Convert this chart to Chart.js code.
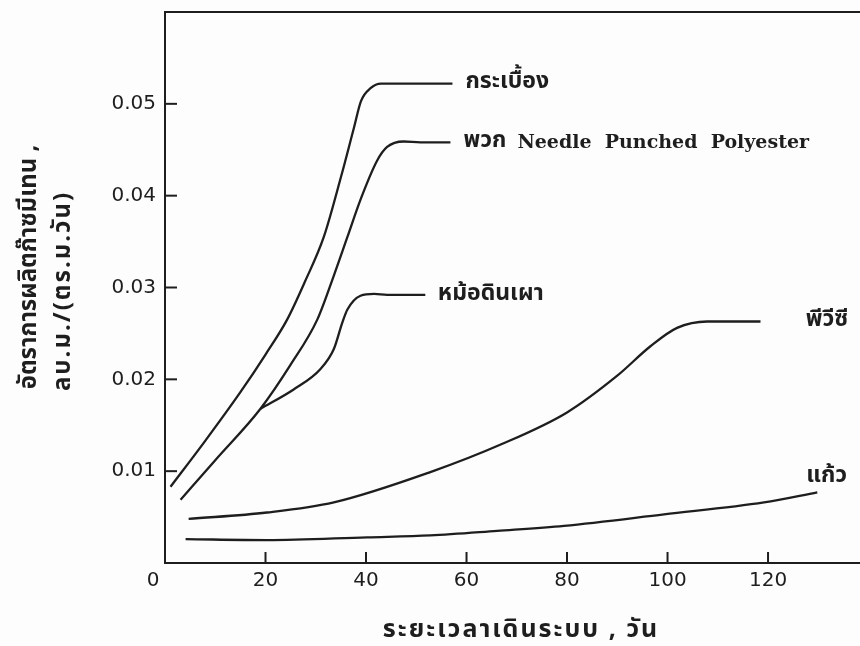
<!DOCTYPE html>
<html>
<head>
<meta charset="utf-8">
<script src="https://cdn.jsdelivr.net/npm/chart.js@4.4.1/dist/chart.umd.min.js"></script>
<style>
html,body{margin:0;padding:0;background:#fdfdfd;overflow:hidden;}
canvas{display:block;}
</style>
</head>
<body>
<canvas id="c" width="860" height="646"></canvas>
<script>
// ---- data ----
const seriesNames = ["กระเบื้อง", "พวก Needle Punched Polyester", "หม้อดินเผา", "พีวีซี", "แก้ว"];
const tileX = [1.1, 8, 15, 20, 24.3, 27.9, 31.6, 35, 37.6, 39, 40.9, 43, 47, 57.2];
const tileY = [0.0083, 0.0133, 0.0186, 0.0227, 0.0265, 0.0307, 0.0355, 0.0420, 0.0474, 0.0503, 0.0517, 0.0522, 0.0522, 0.0522];
const needleX = [3.1, 10, 19, 25, 30.3, 33.6, 36.3, 39, 42.2, 44.2, 47.5, 50.8, 56.8];
const needleY = [0.0069, 0.0112, 0.0168, 0.0216, 0.0265, 0.0313, 0.0355, 0.0397, 0.0438, 0.0453, 0.0459, 0.0458, 0.0458];
const potX = [19, 25.6, 30.9, 33.6, 35.3, 36.3, 38.9, 41.6, 44.2, 51.8];
const potY = [0.0168, 0.0189, 0.0211, 0.0233, 0.0262, 0.0276, 0.0291, 0.0293, 0.0292, 0.0292];
const pvcX = [4.7, 20.3, 33.6, 52.8, 66.8, 80, 90, 96.6, 101.9, 107.9, 118.5];
const pvcY = [0.0048, 0.0055, 0.0066, 0.0099, 0.0129, 0.0164, 0.0204, 0.0236, 0.0256, 0.0263, 0.0263];
const glassX = [4.1, 20.3, 40.2, 52.8, 66.1, 79.4, 99.3, 119.2, 129.8];
const glassY = [0.0026, 0.0025, 0.0028, 0.0030, 0.0035, 0.00405, 0.0053, 0.0066, 0.0077];
// label anchor positions (data coords)
const labelX = [59.8, 59.4, 54.3, 127.5, 127.6];
const labelY = [0.0522, 0.0458, 0.0292, 0.0263, 0.0093];
const xTicks = [0, 20, 40, 60, 80, 100, 120];
const yTicks = [0.01, 0.02, 0.03, 0.04, 0.05];
const xTitle = "ระยะเวลาเดินระบบ , วัน";
const yTitle = ["อัตราการผลิตก๊าซมีเทน ,", "ลบ.ม./(ตร.ม.วัน)"];

const pts = (xs, ys) => xs.map((x, i) => ({x: x, y: ys[i]}));
const INK = '#1e1e1e';
const THAI = '"Noto Sans Thai", "Noto Sans Thai Looped", Loma, Garuda, "Tlwg Typo", "DejaVu Sans", sans-serif';
const NUM = '"DejaVu Sans", sans-serif';

const mk = (name, xs, ys) => ({
  label: name, data: pts(xs, ys), borderColor: INK, borderWidth: 2.3,
  pointRadius: 0, fill: false, cubicInterpolationMode: 'monotone'
});

const decor = {
  id: 'decor',
  afterDraw(chart) {
    const ctx = chart.ctx, a = chart.chartArea;
    const xs = chart.scales.x, ys = chart.scales.y;
    ctx.save();
    ctx.strokeStyle = INK; ctx.lineWidth = 2;
    // top border
    ctx.beginPath(); ctx.moveTo(a.left, a.top); ctx.lineTo(a.right, a.top); ctx.stroke();
    // inward ticks
    xTicks.forEach(v => { if (v === 0) return; const p = xs.getPixelForValue(v);
      ctx.beginPath(); ctx.moveTo(p, a.bottom); ctx.lineTo(p, a.bottom - 11); ctx.stroke(); });
    yTicks.forEach(v => { const p = ys.getPixelForValue(v);
      ctx.beginPath(); ctx.moveTo(a.left, p); ctx.lineTo(a.left + 12, p); ctx.stroke(); });
    ctx.fillStyle = INK;
    // origin label
    ctx.font = '20px ' + NUM; ctx.textAlign = 'center'; ctx.textBaseline = 'middle';
    ctx.fillText('0', a.left - 12, a.bottom + 18);
    // series labels
    ctx.textAlign = 'left';
    seriesNames.forEach((n, i) => {
      const px = xs.getPixelForValue(labelX[i]), py = ys.getPixelForValue(labelY[i]);
      ctx.font = 'bold 23px ' + THAI;
      if (i === 1) {
        ctx.fillText('พวก', px, py);
        const w = ctx.measureText('พวก').width;
        ctx.font = 'bold 19px "DejaVu Serif", serif';
        ctx.fillText('Needle  Punched  Polyester', px + w + 11, py + 1);
      } else {
        ctx.fillText(n, px, py);
      }
    });
    // axis titles
    ctx.textAlign = 'center';
    ctx.font = 'bold 25px ' + THAI;
    ctx.letterSpacing = '2px';
    ctx.fillText(xTitle, 521, 632);
    ctx.font = 'bold 24px ' + THAI;
    ctx.letterSpacing = '0px';
    ctx.save(); ctx.translate(31, 267); ctx.rotate(-Math.PI / 2);
    ctx.fillText(yTitle[0], 0, 0); ctx.restore();
    ctx.letterSpacing = '2px';
    ctx.save(); ctx.translate(65, 291); ctx.rotate(-Math.PI / 2);
    ctx.fillText(yTitle[1], 0, 0); ctx.restore();
    ctx.letterSpacing = '0px';
    ctx.restore();
  }
};

new Chart(document.getElementById('c'), {
  type: 'line',
  data: { datasets: [
    mk(seriesNames[0], tileX, tileY),
    mk(seriesNames[1], needleX, needleY),
    mk(seriesNames[2], potX, potY),
    mk(seriesNames[3], pvcX, pvcY),
    mk(seriesNames[4], glassX, glassY)
  ]},
  options: {
    responsive: false, animation: false,
    layout: { padding: { top: 12, right: 0, left: 0, bottom: 0 } },
    plugins: { legend: { display: false }, tooltip: { enabled: false } },
    scales: {
      x: {
        type: 'linear', min: 0, max: 138.3,
        grid: { display: false, drawTicks: false },
        border: { display: true, color: INK, width: 2 },
        ticks: { stepSize: 20, includeBounds: false, padding: 6, color: INK,
          font: { family: 'DejaVu Sans', size: 20 },
          callback: v => v === 0 ? '' : String(v) },
        afterFit: s => { s.height = 83; s.paddingLeft = 0; s.paddingRight = 0; }
      },
      y: {
        type: 'linear', min: 0, max: 0.06,
        grid: { display: false, drawTicks: false },
        border: { display: true, color: INK, width: 2 },
        ticks: { stepSize: 0.01, padding: 9, color: INK,
          font: { family: 'DejaVu Sans', size: 20 },
          callback: v => (v === 0 || v > 0.055) ? '' : v.toFixed(2) },
        afterFit: s => { s.width = 165; s.paddingTop = 0; s.paddingBottom = 0; }
      }
    }
  },
  plugins: [decor]
});
</script>
</body>
</html>
